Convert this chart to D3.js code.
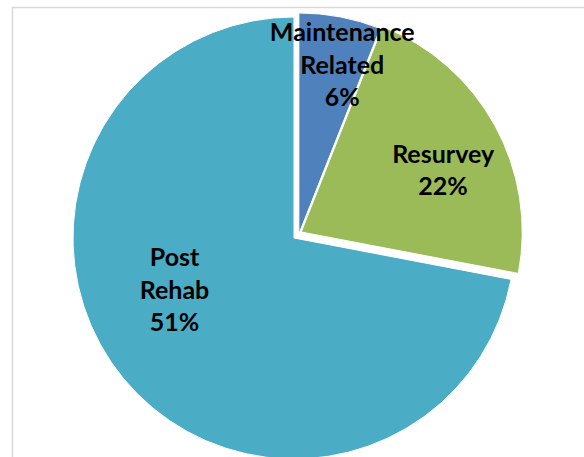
<!DOCTYPE html>
<meta charset="utf-8">
<html>
  <head>
    <script src="https://d3js.org/d3.v7.min.js"></script>
    <style>
      body { margin: 0; background: #fff; }
      .lbl { font-family: Lato, "Noto Sans", sans-serif; font-weight: bold; fill: #000; }
    </style>
  </head>
  <body>
    <div id="chart"></div>
    <script>
        // slice shares
        var categories = ["Maintenance Related", "Resurvey", "Post Rehab"];
        var values = [6, 22, 72];
        // label lines as printed on the chart
        var labelLines = [["Maintenance", "Related", "6%"], ["Resurvey", "22%"], ["Post", "Rehab", "51%"]];
        var colors = ["#4F81BD", "#9BBB59", "#4BACC6"];

        var width = 584, height = 457,
            center = {x: 294, y: 238},
            radius = 221,
            font_size = 25,
            line_height = 32.5;

        // explode distance per slice (px), all pushed out along the mid angle of the exploded group
        var explode = [6.3, 9.4, 0];
        // label position: extra angle (deg) and radius fraction
        var label_shift = [{da: 3.6, r: 0.79}, {da: 5.3, r: 0.70}, {da: 16, r: 0.59}];

        var svg = d3.select("#chart").append("svg")
            .attr("width", width)
            .attr("height", height);

        // chart frame, only top and left are inside the picture
        svg.append("rect")
            .attr("x", 12.5).attr("y", 7.5)
            .attr("width", width + 20).attr("height", height + 20)
            .attr("fill", "none")
            .attr("stroke", "#d9d9d9")
            .attr("stroke-width", 1.5);

        var pie = d3.pie().sort(null).value(function(d){ return d; });
        var arcs = pie(values);

        var arc = d3.arc().innerRadius(0).outerRadius(radius);

        var group_end = d3.max(arcs.filter(function(d, i){ return explode[i] > 0; }), function(d){ return d.endAngle; });
        var group_mid = group_end / 2;

        function offset(i){
            return [explode[i] * Math.sin(group_mid), -explode[i] * Math.cos(group_mid)];
        }

        var g = svg.append("g")
            .attr("transform", "translate(" + center.x + "," + center.y + ")");

        g.selectAll("path.slice")
            .data(arcs)
            .enter().append("path")
            .attr("class", "slice")
            .attr("d", arc)
            .attr("fill", function(d, i){ return colors[i]; })
            .attr("stroke", "#fff")
            .attr("stroke-width", 1)
            .attr("transform", function(d, i){ var o = offset(i); return "translate(" + o[0] + "," + o[1] + ")"; });

        // labels
        var labels = g.selectAll("text.lbl")
            .data(arcs)
            .enter().append("text")
            .attr("class", "lbl")
            .attr("text-anchor", "middle")
            .style("font-size", font_size + "px")
            .attr("transform", function(d, i){
                var o = offset(i);
                var a = (d.startAngle + d.endAngle) / 2 + label_shift[i].da * Math.PI / 180;
                var r = radius * label_shift[i].r;
                return "translate(" + (o[0] + r * Math.sin(a)) + "," + (o[1] - r * Math.cos(a)) + ")";
            });

        labels.each(function(d, i){
            var lines = labelLines[i];
            var n = lines.length;
            d3.select(this).selectAll("tspan")
                .data(lines)
                .enter().append("tspan")
                .attr("x", 0)
                .attr("y", function(t, j){ return (j - (n - 1) / 2) * line_height; })
                .attr("dy", "0.35em")
                .text(function(t){ return t; });
        });
    </script>
  </body>
</html>
